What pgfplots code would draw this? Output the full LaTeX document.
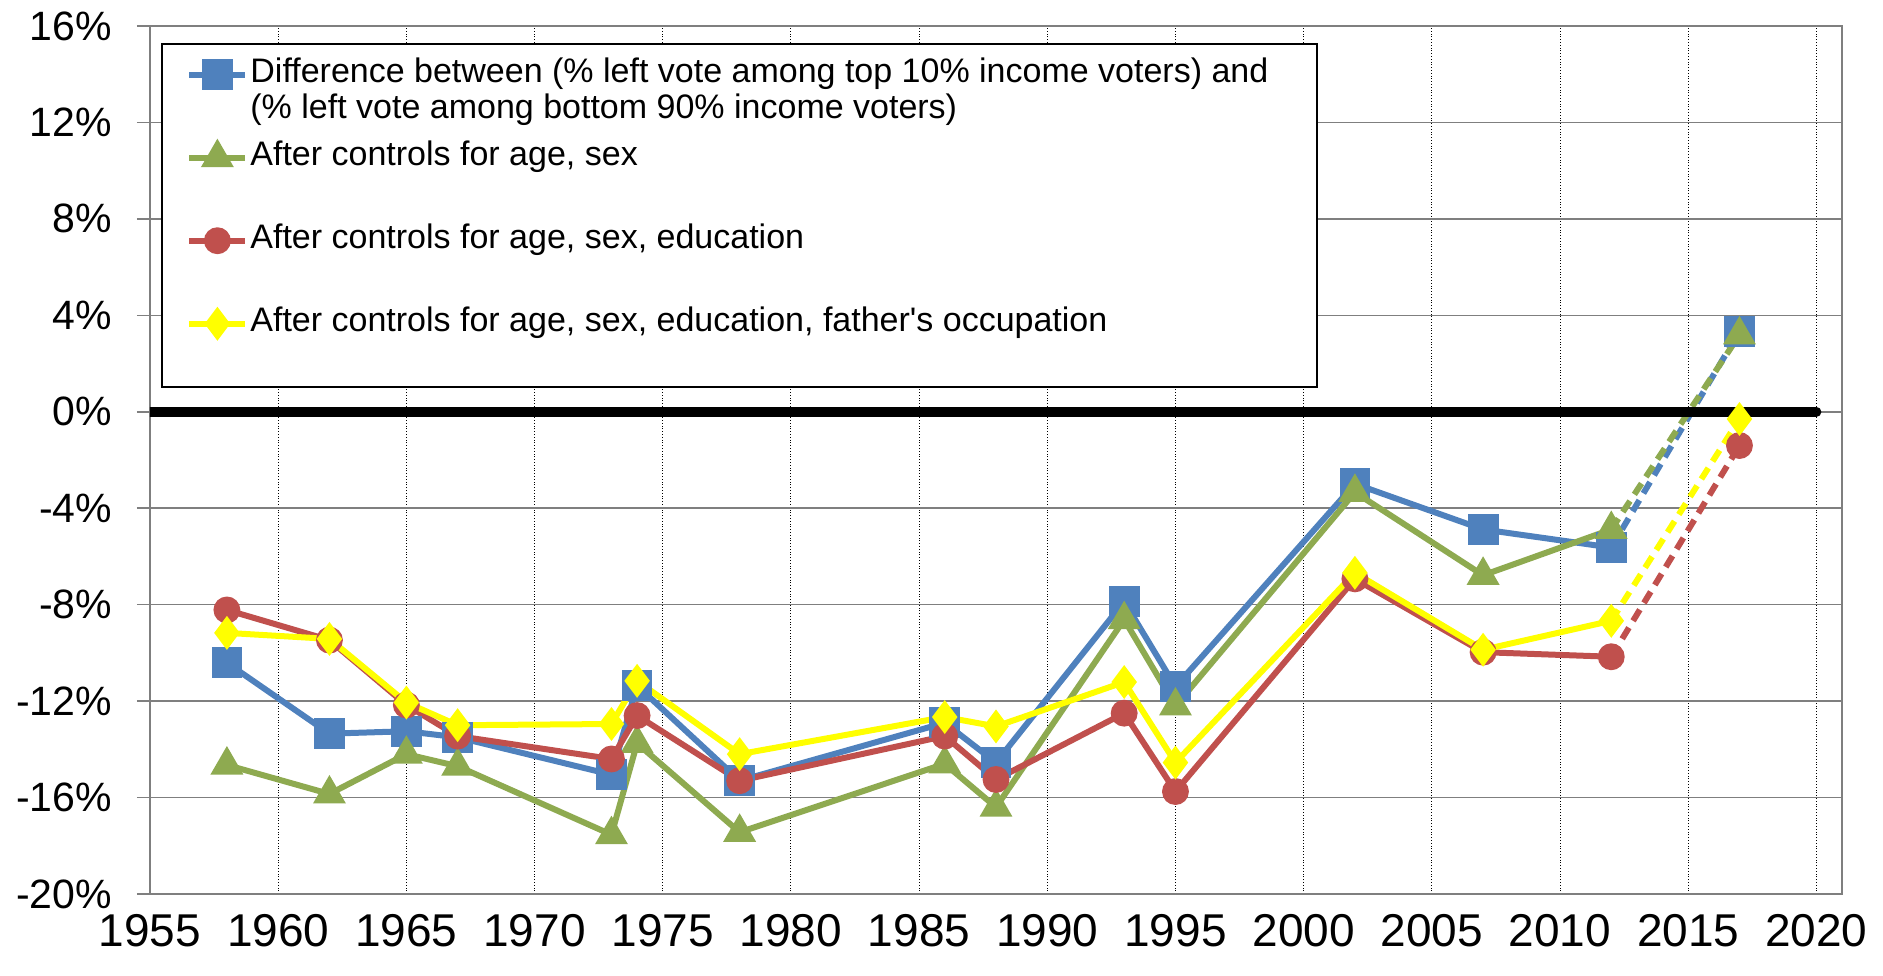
\documentclass[border=0pt]{standalone}
\usepackage{fontspec}
\setmainfont{Liberation Sans}
\usepackage{pgfplots}
\pgfplotsset{compat=1.18}

\definecolor{cblue}{HTML}{4F81BD}
\definecolor{cgreen}{HTML}{8EAA50}
\definecolor{cred}{HTML}{C0504D}
\definecolor{cyellow}{HTML}{FFFF00}
\definecolor{cgrid}{HTML}{7F7F7F}

\begin{document}
\begin{tikzpicture}
\useasboundingbox (-75pt,-40.5pt) rectangle (866.5pt,447pt);
\begin{axis}[
  anchor=south west, at={(0,0)},
  scale only axis, width=846pt, height=434pt,
  xmin=1955, xmax=2021, ymin=-20, ymax=16,
  xtick={1955,1960,...,2020}, ytick={-20,-16,...,16},
  /pgf/number format/1000 sep={},
  /pgf/number format/assume math mode=true,
  yticklabel={\pgfmathprintnumber{\tick}\%},
  xticklabel style={font=\fontsize{23}{23}\selectfont, yshift=0pt},
  yticklabel style={font=\fontsize{20.5}{20.5}\selectfont, xshift=-9pt},
  tick align=outside, ytick pos=left, xtick pos=bottom,
  major tick length=6.5pt,
  xtick style={draw=none},
  ytick style={cgrid, line width=0.8pt},
  xmajorgrids, ymajorgrids,
  x grid style={black, densely dotted, line width=0.5pt},
  y grid style={cgrid, line width=0.8pt},
  axis line style={cgrid, line width=0.8pt},
  every axis plot/.append style={line width=3pt},
  legend cell align=left,
  legend image code/.code={
    \draw[mark repeat=2, mark phase=2, yshift=-1.5pt]
      plot coordinates {(0pt,0pt) (14pt,0pt) (28pt,0pt)};},
  legend style={at={(axis description cs:0.0071,0.979)}, anchor=north west,
    draw=none, fill=none, inner xsep=12pt, inner ysep=5.6pt,
    row sep=25.7pt, column sep=0pt,
    nodes={inner sep=1pt},
    font=\fontsize{17}{18}\selectfont},
]

% legend frame (white box hiding the grid)
\draw[fill=white, line width=1pt]
  (axis description cs:0.0071,0.9793) rectangle (axis description cs:0.6897,0.5841);

% blue: difference top 10% vs bottom 90%
\addplot[cblue, mark=square*, mark size=6.2pt] coordinates {
  (1958,-10.41) (1962,-13.35) (1965,-13.25) (1967,-13.5) (1973,-15.05)
  (1974,-11.36) (1978,-15.3) (1986,-12.9) (1988,-14.55) (1993,-7.87)
  (1995,-11.4) (2002,-2.99) (2007,-4.88) (2012,-5.63)};
\addlegendentry{\parbox[t]{520pt}{Difference between (\% left vote among top 10\% income voters) and\\(\% left vote among bottom 90\% income voters)}}

% green: controls age, sex
\addplot[cgreen, mark=triangle*, mark size=6.5pt] coordinates {
  (1958,-14.65) (1962,-15.85) (1965,-14.2) (1967,-14.7) (1973,-17.54)
  (1974,-13.75) (1978,-17.44) (1986,-14.6) (1988,-16.4) (1993,-8.62)
  (1995,-12.2) (2002,-3.34) (2007,-6.78) (2012,-4.88)};
\addlegendentry{After controls for age, sex}

% red: controls age, sex, education
\addplot[cred, mark=*, mark size=5.2pt] coordinates {
  (1958,-8.22) (1962,-9.47) (1965,-12.16) (1967,-13.45) (1973,-14.4)
  (1974,-12.6) (1978,-15.3) (1986,-13.45) (1988,-15.25) (1993,-12.5)
  (1995,-15.75) (2002,-6.93) (2007,-9.97) (2012,-10.16)};
\addlegendentry{After controls for age, sex, education}

% yellow: controls age, sex, education, father's occupation
\addplot[cyellow, mark=diamond*, mark size=6pt] coordinates {
  (1958,-9.17) (1962,-9.42) (1965,-12.06) (1967,-13.0) (1973,-12.95)
  (1974,-11.16) (1978,-14.2) (1986,-12.66) (1988,-13.05) (1993,-11.21)
  (1995,-14.55) (2002,-6.68) (2007,-9.87) (2012,-8.67)};
\addlegendentry{After controls for age, sex, education, father\textquotesingle s occupation}

% dashed links to the last survey
\addplot[cblue, dash pattern=on 6.5pt off 4pt, mark=square*, mark size=6.2pt,
  mark indices={2}, mark options={solid}, forget plot]
  coordinates {(2012,-5.63) (2017,3.34)};
\addplot[cgreen, dash pattern=on 6.5pt off 4pt, mark=triangle*, mark size=6.5pt,
  mark indices={2}, mark options={solid}, forget plot]
  coordinates {(2012,-4.88) (2017,3.19)};
\addplot[cred, dash pattern=on 6.5pt off 4pt, mark=*, mark size=5.2pt,
  mark indices={2}, mark options={solid}, forget plot]
  coordinates {(2012,-10.16) (2017,-1.4)};
\addplot[cyellow, dash pattern=on 6.5pt off 4pt, mark=diamond*, mark size=6pt,
  mark indices={2}, mark options={solid}, forget plot]
  coordinates {(2012,-8.67) (2017,-0.3)};

% zero line
\addplot[black, line width=5pt, line cap=round, forget plot]
  coordinates {(1955,0) (2020,0)};
\end{axis}
\end{tikzpicture}
\end{document}
